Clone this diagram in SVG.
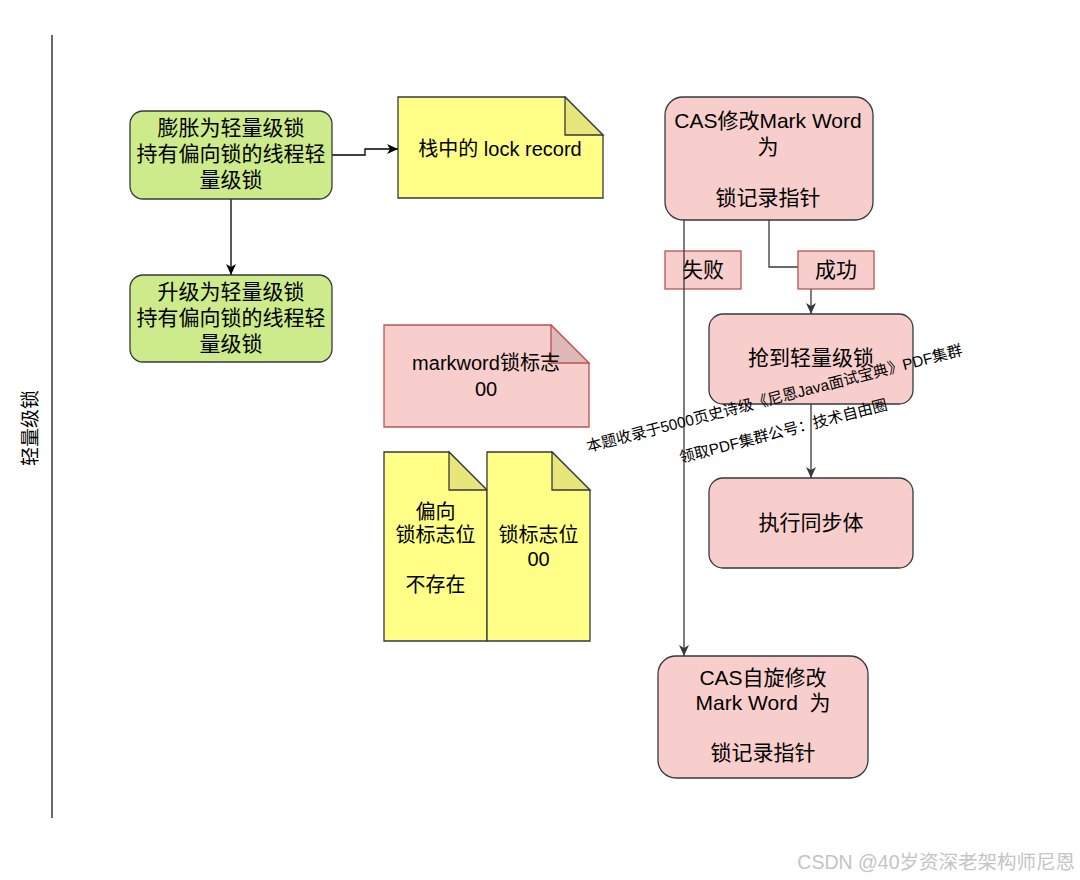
<svg xmlns="http://www.w3.org/2000/svg" width="1080" height="880" viewBox="0 0 1080 880">
<defs>
<style>
text{font-family:"Liberation Sans","Noto Sans CJK SC",sans-serif;fill:#000;text-anchor:middle}
.b{font-size:21px}
.n{font-size:20px}
.green{fill:#cdeb8b;stroke:#36393d;stroke-width:1.3}
.pink{fill:#f8cecc;stroke:#36393d;stroke-width:1.3}
.pinkr{fill:#f8cecc;stroke:#b85450;stroke-width:1.3}
.yel{fill:#ffff88;stroke:#36393d;stroke-width:1.3}
.yfold{fill:#e6e67a;stroke:#36393d;stroke-width:1.3}
.pfold{fill:#dfb9b7;stroke:#b85450;stroke-width:1.3}
.e{fill:none;stroke-width:1.3}
.wm{font-size:15.3px;text-anchor:start}
</style>
<marker id="ak" viewBox="0 0 12 12" refX="11" refY="6" markerWidth="12" markerHeight="12" markerUnits="userSpaceOnUse" orient="auto">
<path d="M0,1 L11,6 L0,11 L3,6 Z" fill="#000"/>
</marker>
<marker id="ag" viewBox="0 0 12 12" refX="11" refY="6" markerWidth="12" markerHeight="12" markerUnits="userSpaceOnUse" orient="auto">
<path d="M0,1 L11,6 L0,11 L3,6 Z" fill="#36393d"/>
</marker>
</defs>
<rect width="1080" height="880" fill="#fff"/>

<g id="lane">
<line x1="52" y1="35" x2="52" y2="818" stroke="#36393d" stroke-width="1.5"/>
<text transform="translate(30,428) rotate(-90)" x="0" y="7" style="font-size:19px">轻量级锁</text>
</g>

<g id="connectors">
<path class="e" stroke="#000" d="M231,199 V275" marker-end="url(#ak)"/>
<path class="e" stroke="#000" d="M332,155 H365 V149 H398" marker-end="url(#ak)"/>
<path class="e" stroke="#36393d" d="M769,220 V267 H811 V314" marker-end="url(#ag)"/>
<path class="e" stroke="#36393d" d="M811,404 V478" marker-end="url(#ag)"/>
</g>

<g id="label-success">
<rect class="pinkr" x="798" y="251" width="76" height="38"/>
<text class="b" x="836" y="277">成功</text>
</g>

<g id="label-fail">
<rect class="pinkr" x="665" y="251" width="76" height="38"/>
<text class="b" x="703" y="277">失败</text>
</g>

<g id="connector-fail">
<path class="e" stroke="#36393d" d="M684,220 V656" marker-end="url(#ag)"/>
</g>

<g id="inflate">
<rect class="green" x="130" y="111" width="202" height="88" rx="13"/>
<text class="b" x="231" y="135">膨胀为轻量级锁</text>
<text class="b" x="231" y="161">持有偏向锁的线程轻</text>
<text class="b" x="231" y="187">量级锁</text>
</g>

<g id="upgrade">
<rect class="green" x="130" y="275" width="202" height="87" rx="13"/>
<text class="b" x="231" y="299">升级为轻量级锁</text>
<text class="b" x="231" y="325">持有偏向锁的线程轻</text>
<text class="b" x="231" y="351">量级锁</text>
</g>

<g id="lock-record">
<path class="yel" d="M398,97 H565 L603,135 V198 H398 Z"/>
<path class="yfold" d="M565,97 V135 H603 Z"/>
<text class="n" x="500" y="156">栈中的 lock record</text>
</g>

<g id="markword">
<path class="pinkr" d="M384,325 H551 L589,363 V427 H384 Z"/>
<path class="pfold" d="M551,325 V363 H589 Z"/>
<text class="n" x="486" y="370">markword锁标志</text>
<text class="n" x="486" y="396">00</text>
</g>

<g id="biased-bit">
<path class="yel" d="M384,452 H449 L487,490 V641 H384 Z"/>
<path class="yfold" d="M449,452 V490 H487 Z"/>
<text class="n" x="435.5" y="519">偏向</text>
<text class="n" x="435.5" y="542">锁标志位</text>
<text class="n" x="435.5" y="592">不存在</text>
</g>

<g id="lock-bit">
<path class="yel" d="M487,452 H552 L590,490 V641 H487 Z"/>
<path class="yfold" d="M552,452 V490 H590 Z"/>
<text class="n" x="538.5" y="542">锁标志位</text>
<text class="n" x="538.5" y="566">00</text>
</g>

<g id="cas">
<rect class="pink" x="665" y="97" width="208" height="123" rx="18"/>
<text class="b" x="768" y="128">CAS修改Mark Word</text>
<text class="b" x="768" y="154">为</text>
<text class="b" x="768" y="205">锁记录指针</text>
</g>

<g id="got-lock">
<rect class="pink" x="709" y="314" width="204" height="90" rx="14"/>
<text class="b" x="811" y="365">抢到轻量级锁</text>
</g>

<g id="sync">
<rect class="pink" x="709" y="478" width="204" height="90" rx="14"/>
<text class="b" x="811" y="530">执行同步体</text>
</g>

<g id="cas-spin">
<rect class="pink" x="658" y="656" width="210" height="122" rx="18"/>
<text class="b" x="763" y="685">CAS自旋修改</text>
<text class="b" x="763" y="710" style="white-space:pre">Mark Word  为</text>
<text class="b" x="763" y="760">锁记录指针</text>
</g>

<g id="watermark">
<text class="wm" transform="translate(588,452) rotate(-14.5)">本题收录于5000页史诗级《尼恩Java面试宝典》PDF集群</text>
<text class="wm" transform="translate(681,463) rotate(-14.5)">领取PDF集群公号：技术自由圈</text>
<text x="1075" y="869" style="font-size:19.5px;fill:#c4c4c4;text-anchor:end">CSDN @40岁资深老架构师尼恩</text>
</g>
</svg>
